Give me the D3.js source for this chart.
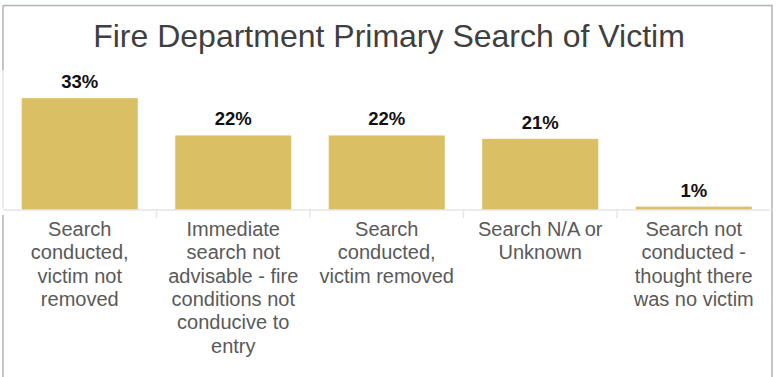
<!DOCTYPE html>
<html>
<head>
<meta charset="utf-8">
<script src="https://cdn.jsdelivr.net/npm/d3@7"></script>
<style>
  html, body { margin: 0; padding: 0; background: #fff; }
  svg { display: block; font-family: "Liberation Sans", Arial, sans-serif; }
</style>
</head>
<body>
<svg id="chart" width="778" height="377"></svg>
<script>
// Chart data
const title = "Fire Department Primary Search of Victim";
const categories = [
  "Search conducted, victim not removed",
  "Immediate search not advisable - fire conditions not conducive to entry",
  "Search conducted, victim removed",
  "Search N/A or Unknown",
  "Search not conducted - thought there was no victim"
];
const percentages = [33, 22, 22, 21, 1];
const valueLabels = ["33%", "22%", "22%", "21%", "1%"];

const W = 778, H = 377;
const svg = d3.select("#chart");

const frame = { left: 3, right: 772, top: 5.5 };
const baseY = 210;

const x = d3.scaleBand()
  .domain(categories)
  .range([frame.left, 770.5])
  .paddingInner(0.244)
  .paddingOuter(0.122);

const y = d3.scaleLinear()
  .domain([0, 36])
  .range([baseY, 88]);

// Outer frame
const frameColor = "#aeb3b3";
svg.append("line").attr("x1", frame.left).attr("x2", frame.right + 0.5)
  .attr("y1", frame.top).attr("y2", frame.top)
  .attr("stroke", frameColor).attr("stroke-width", 1.5);
svg.append("line").attr("x1", frame.right).attr("x2", frame.right)
  .attr("y1", frame.top).attr("y2", H)
  .attr("stroke", frameColor).attr("stroke-width", 1.5);
svg.append("line").attr("x1", frame.left).attr("x2", frame.left)
  .attr("y1", frame.top).attr("y2", 70)
  .attr("stroke", frameColor).attr("stroke-width", 1.5);
svg.append("line").attr("x1", frame.left).attr("x2", frame.left)
  .attr("y1", 70).attr("y2", 208)
  .attr("stroke", "#e4e4e4").attr("stroke-width", 1.5);
svg.append("line").attr("x1", frame.left).attr("x2", frame.left)
  .attr("y1", 215).attr("y2", H)
  .attr("stroke", frameColor).attr("stroke-width", 1.5);

// Title
svg.append("text")
  .attr("x", 389).attr("y", 47)
  .attr("text-anchor", "middle")
  .attr("font-size", 32)
  .attr("fill", "#3f3f3f")
  .text(title);

// Bars
svg.append("g").selectAll("rect")
  .data(categories)
  .join("rect")
  .attr("x", d => x(d))
  .attr("width", x.bandwidth())
  .attr("y", (d, i) => y(percentages[i]))
  .attr("height", (d, i) => y(0) - y(percentages[i]))
  .attr("fill", "#dbbf65");

// Value labels
svg.append("g").selectAll("text")
  .data(categories)
  .join("text")
  .attr("x", d => x(d) + x.bandwidth() / 2)
  .attr("y", (d, i) => y(percentages[i]) - 10)
  .attr("text-anchor", "middle")
  .attr("font-size", 18.5)
  .attr("font-weight", "bold")
  .attr("fill", "#111")
  .text((d, i) => valueLabels[i]);

// Category axis: baseline plus separators between bands
const axis = d3.axisBottom(x).tickSize(0).tickFormat(() => "");
const gAxis = svg.append("g").attr("transform", `translate(0,${baseY})`).call(axis);
gAxis.select(".domain").remove();
gAxis.append("line")
  .attr("x1", frame.left).attr("x2", frame.right)
  .attr("y1", 0).attr("y2", 0)
  .attr("stroke", "#e6e6e6").attr("stroke-width", 1.5);
const step = x.step();
const bounds = d3.range(1, categories.length).map(k => x.range()[0] + k * step);
gAxis.selectAll("line.sep")
  .data(bounds)
  .join("line")
  .attr("class", "sep")
  .attr("x1", d => d).attr("x2", d => d)
  .attr("y1", 0).attr("y2", 8)
  .attr("stroke", "#e6e6e6").attr("stroke-width", 1.5);

// Wrapped category labels
const maxW = 146, lineH = 23.3, firstBase = 236;
const labels = svg.append("g")
  .attr("font-size", 20)
  .attr("fill", "#595959")
  .attr("text-anchor", "middle");

categories.forEach(cat => {
  const cx = x(cat) + x.bandwidth() / 2;
  const t = labels.append("text").attr("x", cx).attr("y", firstBase);
  const words = cat.split(" ");
  let line = [];
  let lineNo = 0;
  let ts = t.append("tspan").attr("x", cx).attr("y", firstBase);
  words.forEach(w => {
    line.push(w);
    ts.text(line.join(" "));
    if (ts.node().getComputedTextLength() > maxW && line.length > 1) {
      line.pop();
      ts.text(line.join(" "));
      line = [w];
      lineNo += 1;
      ts = t.append("tspan").attr("x", cx).attr("y", firstBase + lineNo * lineH).text(w);
    }
  });
});
</script>
</body>
</html>
